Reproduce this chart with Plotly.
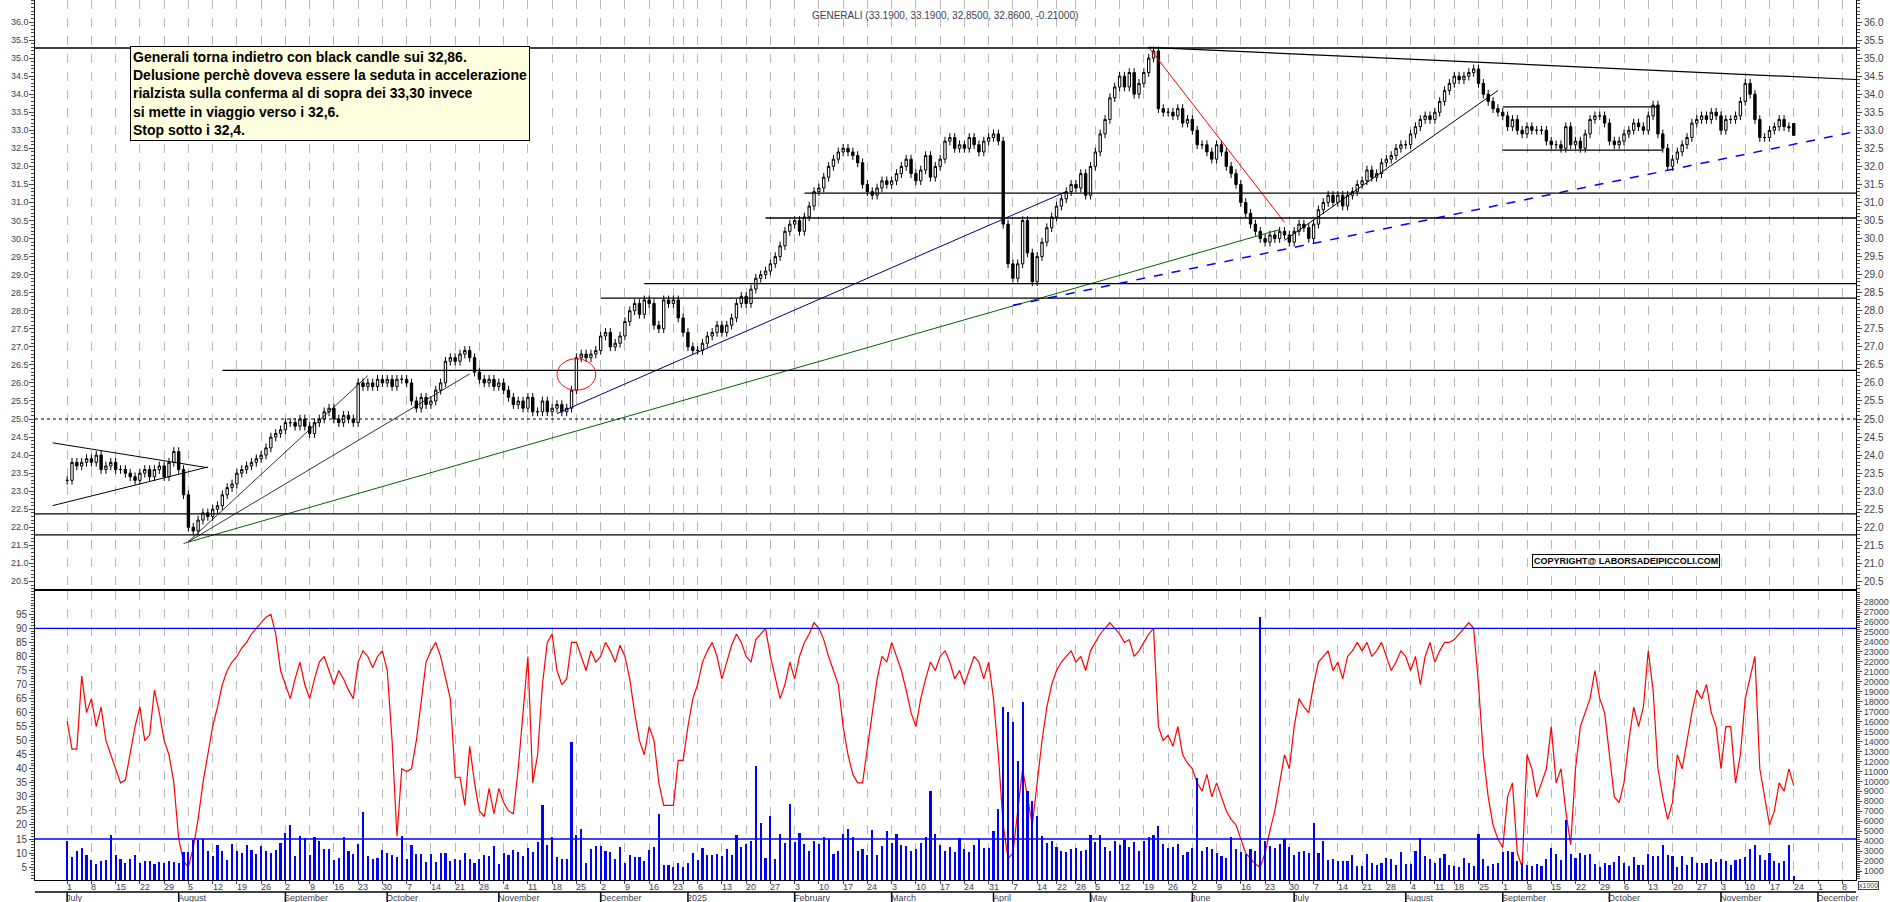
import pandas as pd
import numpy as np
import plotly.graph_objects as go

holidays = ["2024-12-24","2024-12-25","2024-12-26","2024-12-31","2025-01-01",
            "2025-04-18","2025-04-21","2025-05-01","2025-08-15"]

# daily closes, one row per week (first row = week of 2024-07-01)
closes_w = [
 [23.3,23.8,23.7,23.8,23.9],[23.8,24.0,23.6,23.7,23.8],[23.6,23.6,23.5,23.4,23.3],
 [23.5,23.6,23.4,23.6,23.7],[23.4,23.8,24.1,23.6,22.9],[22.0,21.9,22.2,22.4,22.3],
 [22.5,22.6,22.9,23.1,23.2],[23.5,23.6,23.7,23.8,23.9],[24.0,24.2,24.5,24.6,24.7],
 [24.9,24.9,24.8,25.0,24.8],[24.6,24.9,25.0,25.2,25.3],[25.0,24.9,25.1,25.0,24.9],
 [26.0,25.9,26.0,25.9,26.1],[26.0,26.1,25.9,26.1,26.1],[26.0,25.5,25.3,25.6,25.4],
 [25.5,25.8,26.0,26.6,26.7],[26.6,26.8,26.9,26.7,26.3],[26.1,26.0,26.1,25.9,26.0],
 [25.8,25.6,25.4,25.5,25.3],[25.6,25.2,25.2,25.5,25.2],[25.3,25.4,25.2,25.3,25.8],
 [26.7,26.8,26.7,26.8,26.9],[27.3,27.4,27.0,27.1,27.3],[27.7,28.0,28.2,27.9,28.3],
 [28.2,27.6,27.5,28.3,28.2],[28.3,27.8],[27.4,27.0,26.9],
 [26.9,27.1,27.3,27.4,27.6],[27.4,27.6,27.8,28.2,28.4],[28.2,28.6,28.9,29.0,29.1],
 [29.3,29.5,29.8,30.2,30.4],[30.5,30.2,30.6,30.9,31.3],[31.4,31.7,32.0,32.2,32.4],
 [32.5,32.4,32.3,32.1,31.5],[31.3,31.2,31.4,31.6,31.5],[31.6,31.8,32.0,32.2,31.8],
 [31.6,31.9,32.3,31.7,32.0],[32.2,32.7,32.8,32.5,32.6],[32.5,32.8,32.6,32.4,32.7],
 [32.8,32.9,32.7,30.4,29.3],[28.9,29.3,30.5,29.6,28.8],[29.5,29.9,30.3,30.6],
 [30.9,31.1,31.3,31.5],[31.4,31.8,31.2,32.0],[32.4,32.9,33.3,33.9,34.2],
 [34.5,34.2,34.6,34.0,34.3],[34.6,35.0,35.2,33.6,33.5],[33.5,33.4,33.6,33.2,33.3],
 [33.0,32.6,32.6,32.4,32.2],[32.6,32.4,32.0,31.8,31.5],[31.0,30.7,30.4,30.2,30.0],
 [29.9,30.1,30.0,30.2,30.1],[29.9,30.2,30.4,30.3,30.0],[30.4,30.8,31.0,31.2,31.0],
 [31.2,30.9,31.2,31.3,31.5],[31.6,31.9,31.7,31.8,32.1],[32.2,32.3,32.5,32.6,32.6],
 [32.9,33.1,33.3,33.4,33.3],[33.5,33.8,34.1,34.3],[34.5,34.4,34.5,34.6,34.7],
 [34.3,34.0,33.8,33.6,33.5],[33.4,33.1,33.3,33.0,32.9],[33.1,33.0,33.0,33.0,32.7],
 [32.6,32.6,32.5,33.1,32.6],[32.7,32.5,32.9,33.3,33.4],[33.4,33.2,32.7,32.6,32.7],
 [32.9,33.0,33.2,33.1,33.0],[33.4,33.7,32.9,32.5,32.0],[32.2,32.4,32.6,32.8,33.2],
 [33.3,33.4,33.3,33.5,33.4],[33.0,33.3,33.3,33.4,33.8],[34.3,34.0,33.3,32.8,32.8],
 [33.0,33.1,33.3,33.1,33.07],[32.86],
]
osc_w = [
 [57,47,47,73,60],[65,55,62,50,45],[40,35,36,45,55],[62,50,52,68,60],[50,45,35,15,7],
 [5,12,22,35,45],[55,62,70,75,78],[80,83,85,88,90],[92,94,95,88,75],[70,65,72,78,70],
 [65,72,78,80,75],[70,75,72,68,65],[78,82,80,76,80],[82,75,50,16,40],[39,40,50,65,78],
 [82,85,80,72,65],[37,37,27,48,35],[25,23,33,24,33],[28,25,24,40,60],[80,35,45,70,85],
 [88,75,70,72,85],[85,80,75,82,78],[80,85,82,78,84],[80,72,60,50,45],[55,50,35,27,27],
 [27,43],[43,55,65],[70,78,82,85,80],[72,78,84,88,85],[80,78,86,88,90],[80,72,65,70,78],
 [72,80,85,88,92],[90,86,80,75,70],[55,45,38,35,35],[48,60,72,80,78],[85,80,75,68,60],
 [55,65,72,78,75],[80,82,78,72,75],[70,75,80,78,72],[78,65,45,20,8],[10,25,40,30,20],
 [35,50,62,70],[75,78,80,82],[78,80,75,82],[85,88,90,92,90],[88,85,86,80,82],
 [85,88,90,55,50],[52,48,55,45,42],[40,35,32,38,30],[35,30,25,22,20],[15,10,8,6,5],
 [10,18,25,35,45],[40,55,65,62,60],[70,78,80,82,75],[78,72,80,82,85],[82,85,80,82,85],
 [80,75,78,82,80],[75,80,70,80,85],[78,82,85,85],[86,88,90,92,90],[70,45,30,20,15],
 [12,30,35,10,5],[45,40,30,35,40],[55,35,40,25,13],[40,55,60,65,75],[65,60,45,30,28],
 [35,50,62,55,62],[82,68,40,30,22],[28,45,40,50,60],[68,65,70,60,55],[40,55,55,35,45],
 [65,72,80,40,30],[20,25,35,32,40],[34],
]
vol_w = [
 [4.0,2.4,3.0,3.3,2.6],[2.1,1.7,2.0,2.1,4.6],[2.6,2.2,1.8,2.2,2.6],[1.8,2.0,2.0,1.7,1.9],
 [1.8,2.0,1.9,1.8,2.9],[2.9,4.1,4.1,4.2,3.0],[2.5,3.6,3.0,2.1,3.7],[3.0,2.8,3.6,3.1,2.7],
 [3.5,3.0,2.8,3.1,3.8],[4.8,5.6,2.5,4.5,4.3],[2.6,4.4,4.0,3.2,3.2],[2.1,2.3,4.4,3.0,2.7],
 [3.7,6.9,2.5,2.2,2.3],[3.1,2.8,2.6,2.4,4.5],[2.2,3.6,2.7,2.7,1.9],[2.7,1.9,2.8,2.8,2.0],
 [2.2,2.1,2.8,2.2,1.8],[2.2,2.6,2.5,3.5,1.7],[2.8,2.6,3.1,2.9,2.5],[3.3,2.9,3.9,7.6,3.6],
 [4.4,2.4,2.2,2.2,14.0],[4.6,5.2,1.8,3.2,3.5],[3.5,3.0,2.9,2.2,3.4],[1.8,2.6,2.4,2.4,2.0],
 [3.1,3.4,6.7,1.6,1.6],[1.4,1.8],[1.4,1.8,2.8],[2.1,3.3,2.6,2.6,2.7],[2.5,3.2,2.6,4.6,3.4],
 [3.7,4.0,11.5,5.8,2.3],[6.5,2.2,4.7,3.8,7.7],[3.9,4.8,3.7,3.0,4.0],[3.7,4.4,4.2,2.7,3.0],
 [4.7,5.2,4.4,3.0,3.2],[2.6,5.1,2.6,3.5,5.0],[3.8,4.7,3.6,3.5,3.0],[3.2,3.8,4.4,9.0,4.7],
 [3.6,3.0,3.4,2.9,4.3],[3.2,2.9,3.6,4.2,3.3],[3.3,5.0,7.2,17.5,17.0],[16.0,12.0,18.0,9.0,8.0],
 [6.5,4.5,3.8,4.0],[3.4,3.0,2.9,3.2],[3.3,3.0,3.1,4.6],[3.9,4.6,3.4,3.0,4.0],
 [3.6,4.1,3.4,3.9,3.0],[4.0,4.4,4.6,5.5,3.7],[3.3,3.4,3.7,2.6,2.9],[3.3,10.3,3.0,3.4,3.2],
 [2.8,2.5,2.3,4.4,3.2],[2.9,2.7,3.2,3.0,26.5],[4.0,3.5,3.3,3.7,4.2],[3.4,2.6,2.9,3.0,2.8],
 [5.8,2.8,4.0,2.1,2.2],[2.0,2.0,2.0,2.6,1.5],[1.5,2.7,1.8,1.6,1.8],[2.3,2.2,1.6,2.9,1.7],
 [1.7,3.0,4.3,2.5,2.2],[1.8,2.3,2.7,1.6],[1.5,1.4,2.3,1.8,1.5],[4.7,2.2,1.5,1.7,1.8],
 [2.9,3.0,2.9,2.0,1.8],[1.6,1.5,1.7,1.5,2.2],[3.3,2.7,2.1,6.1,2.7],[2.3,2.8,2.6,2.7,1.7],
 [1.4,1.8,1.6,1.9,2.5],[1.8,1.5,2.4,1.6,1.6],[2.7,2.5,2.5,3.6,2.6],[2.5,1.4,2.5,1.6,2.4],
 [1.8,1.8,1.8,2.2,1.9],[2.2,2.0,1.6,2.1,2.2],[2.4,3.2,3.6,2.6,2.1],[2.8,2.0,1.8,2.0,3.6],[0.5],
]
week_starts = pd.date_range("2024-07-01", periods=len(closes_w), freq="W-MON")

cal = pd.bdate_range("2024-06-20", "2026-01-10")
cal = cal[~cal.isin(pd.to_datetime(holidays))]
pos = {d: i for i, d in enumerate(cal)}
def ix(s):
    d = pd.Timestamp(s)
    while d not in pos:
        d += pd.Timedelta(days=1)
    return pos[d]

dates, close, osc, vol = [], [], [], []
for ws, cw, ow, vw in zip(week_starts, closes_w, osc_w, vol_w):
    days = [d for d in cal if ws <= d < ws + pd.Timedelta(days=7)]
    for d, c, o, v in zip(days, cw, ow, vw):
        dates.append(d); close.append(c); osc.append(o); vol.append(v * 1000)
x = [pos[d] for d in dates]
opn = [close[0]] + close[:-1]
opn[-1] = 33.19
high = [max(o, c) + 0.12 for o, c in zip(opn, close)]
low = [min(o, c) - 0.12 for o, c in zip(opn, close)]
high[-1], low[-1] = 33.19, 32.85

trend_lines = [
 ("2024-06-26", 24.34, "2024-08-09", 23.65, "black", "solid", 1),
 ("2024-06-26", 22.60, "2024-08-09", 23.67, "black", "solid", 1),
 ("2024-08-05", 21.60, "2024-09-25", 26.20, "black", "solid", 0.8),
 ("2024-08-05", 21.60, "2024-10-24", 26.25, "black", "solid", 0.8),
 ("2024-08-02", 21.55, "2025-06-26", 30.25, "darkgreen", "solid", 1),
 ("2024-11-19", 25.15, "2025-04-24", 31.30, "navy", "solid", 1),
 ("2025-04-07", 28.15, "2025-12-12", 33.00, "blue", "dash", 1.5),
 ("2025-05-20", 35.30, "2025-06-27", 30.45, "red", "solid", 1),
 ("2025-06-27", 29.95, "2025-08-29", 34.10, "black", "solid", 1),
 ("2025-05-20", 35.30, "2025-12-12", 34.40, "black", "solid", 1.2),
 ("2025-09-01", 33.65, "2025-10-15", 33.65, "black", "solid", 1.2),
 ("2025-09-01", 32.45, "2025-10-16", 32.45, "black", "solid", 1.2),
]
h_levels = [35.28, 31.26, 30.57, 28.75, 28.35, 26.35, 22.37, 21.79]
h_starts = ["2024-06-20", "2025-02-05", "2025-01-24", "2024-12-13", "2024-12-02",
            "2024-08-14", "2024-06-20", "2024-06-20"]
dash_level = 25.0
osc_levels = [90, 15]

i_nov3 = ix("2025-11-03")
ppd = 4.85
xr = [i_nov3 - (1721 - 35) / ppd, i_nov3 + (1856 - 1721) / ppd]

fig = go.Figure()
fig.add_trace(go.Candlestick(x=x, open=opn, high=high, low=low, close=close,
    increasing=dict(line=dict(color="black", width=1), fillcolor="white"),
    decreasing=dict(line=dict(color="black", width=1), fillcolor="black"),
    whiskerwidth=0, xaxis="x", yaxis="y", showlegend=False))
fig.add_trace(go.Bar(x=x, y=vol, marker=dict(color="blue", line=dict(width=0)), width=0.45,
                     xaxis="x2", yaxis="y3", showlegend=False))
fig.add_trace(go.Scatter(x=x, y=osc, mode="lines", line=dict(color="red", width=1.2),
                         xaxis="x2", yaxis="y2", showlegend=False))

for d1, p1, d2, p2, col, dash, w in trend_lines:
    fig.add_trace(go.Scatter(x=[ix(d1), ix(d2)], y=[p1, p2], mode="lines",
        line=dict(color=col, dash=dash, width=w), xaxis="x", yaxis="y", showlegend=False))
for lv, st in zip(h_levels, h_starts):
    fig.add_trace(go.Scatter(x=[max(ix(st), xr[0]), xr[1]], y=[lv, lv], mode="lines",
        line=dict(color="black", width=1.3), xaxis="x", yaxis="y", showlegend=False))
fig.add_trace(go.Scatter(x=xr, y=[dash_level]*2, mode="lines",
    line=dict(color="black", width=1.2, dash="dot"), xaxis="x", yaxis="y", showlegend=False))
for lv in osc_levels:
    fig.add_trace(go.Scatter(x=xr, y=[lv, lv], mode="lines", line=dict(color="blue", width=1.3),
        xaxis="x2", yaxis="y2", showlegend=False))

fig.add_shape(type="circle", xref="x", yref="y", x0=ix("2024-11-19"), x1=ix("2024-11-29"),
              y0=25.8, y1=26.67, line=dict(color="red", width=1))

mondays = [ix(ws) for ws in pd.date_range("2024-07-01", "2025-12-31", freq="W-MON")]

fs = dict(family="Liberation Sans, Arial", size=10, color="#404050")
fs9 = dict(family="Liberation Sans, Arial", size=9, color="#404050")
grid = dict(showgrid=True, gridcolor="#b8b8b8", griddash="dash", gridwidth=1)
H = 880.0
vt = list(range(1000, 28001, 1000))
fig.update_layout(
    width=1890, height=902, paper_bgcolor="white", plot_bgcolor="white",
    margin=dict(l=35, r=34, t=0, b=22, pad=0), bargap=0,
    xaxis=dict(domain=[0, 1], range=xr, anchor="y", tickvals=mondays, showticklabels=False,
               ticks="", rangeslider=dict(visible=False), showline=True, linecolor="black",
               mirror=True, zeroline=False, **grid),
    xaxis2=dict(domain=[0, 1], range=xr, anchor="y2", matches="x", tickvals=mondays,
                showticklabels=False, ticks="outside", ticklen=3,
                showline=True, linecolor="black", mirror=True, zeroline=False, **grid),
    yaxis=dict(domain=[1 - 589/H, 1], range=[20.29, 36.61], side="right",
               tickvals=list(np.arange(20.5, 36.01, 0.5)), ticktext=[f"{v:.1f}" for v in np.arange(20.5, 36.01, 0.5)],
               ticks="outside", ticklen=5, tickfont=fs, showgrid=False, zeroline=False,
               showline=True, linecolor="black", mirror="allticks",
               minor=dict(ticks="outside", ticklen=3, dtick=0.1, tick0=20.5, showgrid=False)),
    yaxis2=dict(domain=[0, 1 - 591/H], range=[0.41, 103.3], side="left", anchor="x2",
                tickvals=list(range(5, 100, 5)), ticks="outside", ticklen=5, tickfont=fs,
                showgrid=False, zeroline=False, showline=True, linecolor="black",
                minor=dict(ticks="outside", ticklen=3, dtick=1, showgrid=False)),
    yaxis3=dict(domain=[0, 1 - 591/H], range=[96, 29110], side="right", overlaying="y2",
                anchor="x2", tickvals=vt, ticktext=[str(v) for v in vt], ticks="outside", ticklen=5,
                tickfont=fs9, showgrid=False, zeroline=False, showline=True, linecolor="black",
                minor=dict(ticks="outside", ticklen=3, dtick=200, showgrid=False)),
)
for v in np.arange(20.5, 36.01, 0.5):
    fig.add_annotation(x=0, xref="paper", xanchor="right", xshift=-4, y=v, yref="y",
                       text=f"{v:.1f}", showarrow=False, font=fs9)

last_lbl = -99
for i in mondays:
    if xr[0] <= i <= xr[1] and i - last_lbl >= 3:
        last_lbl = i
        fig.add_annotation(x=i, xref="x2", xanchor="left", xshift=-1, y=-1/H, yref="paper",
                           yanchor="top", text=str(cal[i].day), showarrow=False, font=fs9,
                           borderpad=0)
seen = set()
for d in cal:
    if d < pd.Timestamp("2024-07-01") or d > pd.Timestamp("2025-12-05"):
        continue
    k = (d.year, d.month)
    if k in seen:
        continue
    seen.add(k)
    name = "2025" if k == (2025, 1) else d.strftime("%B")
    fig.add_annotation(x=pos[d], xref="x2", xanchor="left", xshift=-2, y=-12/H, yref="paper",
                       yanchor="top", text=name, showarrow=False, font=fs9, borderpad=0)
    fig.add_shape(type="line", xref="x2", yref="paper", x0=pos[d], x1=pos[d],
                  y0=-12/H, y1=-22/H, line=dict(color="black", width=1.5))
fig.add_shape(type="line", xref="paper", yref="paper", x0=0, x1=1, y0=-12/H, y1=-12/H,
              line=dict(color="black", width=1.5))

fig.add_annotation(x=(945 - 35) / 1821, xref="paper", y=(H - 8) / H, yref="paper",
                   text="GENERALI (33.1900, 33.1900, 32.8500, 32.8600, -0.21000)",
                   showarrow=False, font=fs)
fig.add_annotation(x=(130 - 35) / 1821, xref="paper", xanchor="left", y=(H - 46) / H,
                   yref="paper", yanchor="top", align="left", showarrow=False,
                   text=("<b>Generali torna indietro con black candle sui 32,86.<br>"
                         "Delusione perchè doveva essere la seduta in accelerazione<br>"
                         "rialzista sulla conferma al di sopra dei 33,30 invece<br>"
                         "si mette in viaggio verso i 32,6.<br>Stop sotto i 32,4.</b>"),
                   font=dict(family="Liberation Sans Narrow, Arial Narrow, Liberation Sans", size=14, color="black"),
                   bgcolor="#FFFFE0", bordercolor="black", borderwidth=1, borderpad=2)
fig.add_annotation(x=(1532 - 35) / 1821, xref="paper", xanchor="left", y=(H - 561) / H,
                   yref="paper", yanchor="middle", showarrow=False,
                   text="<b>COPYRIGHT@ LABORSADEIPICCOLI.COM</b>",
                   font=dict(family="Liberation Sans, Arial", size=9, color="black"),
                   bgcolor="white", bordercolor="black", borderwidth=1, borderpad=1)
fig.add_annotation(x=1, xref="paper", xanchor="left", xshift=2, y=0, yref="paper", yanchor="top",
                   yshift=-1, text="x1000", showarrow=False,
                   font=dict(family="Liberation Sans", size=7, color="#404050"),
                   bordercolor="#404050", borderwidth=1, borderpad=0)
fig.write_html("out.html", config={"displayModeBar": False},
               post_script="document.body.style.margin='0';document.body.style.overflow='hidden';")
